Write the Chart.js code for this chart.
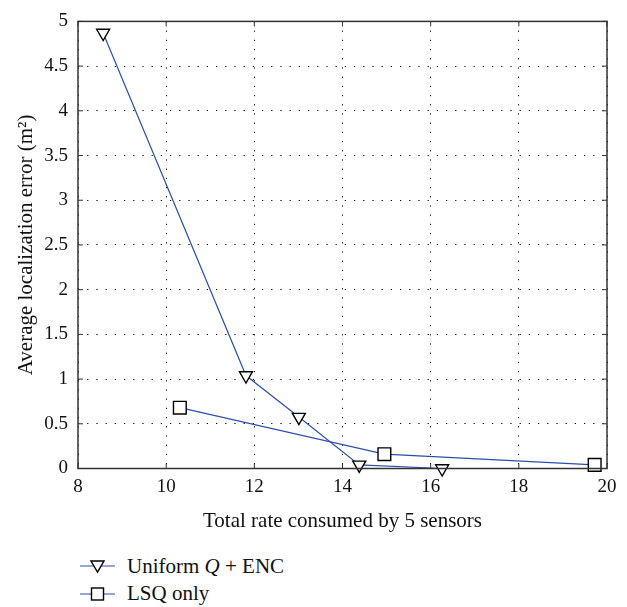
<!DOCTYPE html>
<html>
<head>
<meta charset="utf-8">
<script src="https://cdn.jsdelivr.net/npm/chart.js@4.4.1/dist/chart.umd.min.js"></script>
<style>
  body { margin: 0; background: #fff; }
  #wrap { position: relative; width: 627px; height: 607px; }
  #legend { position: absolute; left: 80px; top: 553px; font-family: "Liberation Serif", serif; font-size: 21px; color: #111; }
  .row { display: flex; align-items: center; height: 27px; }
  .row svg { margin-right: 12px; }
</style>
</head>
<body>
<div id="wrap">
  <canvas id="chart" width="627" height="545"></canvas>
  <div id="legend">
    <div class="row">
      <svg width="35" height="20"><line x1="0" y1="9" x2="35" y2="9" stroke="#2d4fa8" stroke-width="1.2"/><polygon points="11,4 24,4 17.5,15" fill="#fff" stroke="#000" stroke-width="1.4"/></svg>
      <span>Uniform <i>Q</i> + ENC</span>
    </div>
    <div class="row">
      <svg width="35" height="20"><line x1="0" y1="10" x2="35" y2="10" stroke="#2d4fa8" stroke-width="1.2"/><rect x="11.5" y="4" width="12" height="12" fill="#fff" stroke="#000" stroke-width="1.4"/></svg>
      <span>LSQ only</span>
    </div>
  </div>
</div>
<script>
const uniformX = [8.57, 11.81, 13.01, 14.38, 16.26];
const uniformY = [4.87, 1.04, 0.575, 0.04, 0.0];
const lsqX = [10.31, 14.95, 19.72];
const lsqY = [0.68, 0.16, 0.04];
const xTicks = [8, 10, 12, 14, 16, 18, 20];
const yTicks = [0, 0.5, 1, 1.5, 2, 2.5, 3, 3.5, 4, 4.5, 5];

const lineColor = '#2d4fa8';
const serif = '"Liberation Serif", serif';

function toPoints(xs, ys) {
    return xs.map((x, i) => ({ x: x, y: ys[i] }));
}

// box round the plot with small inward ticks
const boxPlugin = {
    id: 'box',
    afterDatasetsDraw(chart) {
        const { ctx, chartArea: a, scales } = chart;
        ctx.save();
        ctx.strokeStyle = '#333';
        ctx.lineWidth = 1.5;
        ctx.strokeRect(a.left, a.top, a.right - a.left, a.bottom - a.top);
        ctx.lineWidth = 1;
        ctx.beginPath();
        xTicks.forEach(t => {
            const px = scales.x.getPixelForValue(t);
            ctx.moveTo(px, a.bottom); ctx.lineTo(px, a.bottom - 5);
            ctx.moveTo(px, a.top); ctx.lineTo(px, a.top + 5);
        });
        yTicks.forEach(t => {
            const py = scales.y.getPixelForValue(t);
            ctx.moveTo(a.left, py); ctx.lineTo(a.left + 5, py);
            ctx.moveTo(a.right, py); ctx.lineTo(a.right - 5, py);
        });
        ctx.stroke();
        ctx.restore();
    }
};

const ctx = document.getElementById('chart').getContext('2d');
const chart = new Chart(ctx, {
    type: 'line',
    data: {
        datasets: [{
            label: 'Uniform Q + ENC',
            data: toPoints(uniformX, uniformY),
            borderColor: lineColor,
            borderWidth: 1.2,
            pointStyle: 'triangle',
            rotation: 180,
            pointRadius: 7.5,
            pointBackgroundColor: '#fff',
            pointBorderColor: '#000',
            pointBorderWidth: 1.4,
            tension: 0,
            clip: false
        }, {
            label: 'LSQ only',
            data: toPoints(lsqX, lsqY),
            borderColor: lineColor,
            borderWidth: 1.2,
            pointStyle: 'rect',
            pointRadius: 9,
            pointBackgroundColor: '#fff',
            pointBorderColor: '#000',
            pointBorderWidth: 1.4,
            tension: 0,
            clip: false
        }]
    },
    options: {
        responsive: false,
        animation: false,
        layout: { padding: { top: 13, right: 20, left: 0, bottom: 0 } },
        plugins: { legend: { display: false }, tooltip: { enabled: false } },
        scales: {
            x: {
                type: 'linear',
                min: 8, max: 20,
                afterFit: s => { s.height = 76.5; },
                afterBuildTicks: s => { s.ticks = xTicks.map(v => ({ value: v })); },
                ticks: { color: '#111', font: { family: serif, size: 19 }, padding: 7, callback: v => String(v) },
                grid: { color: '#000', lineWidth: 1, drawTicks: false },
                border: { display: false, dash: [1.2, 8] },
                title: { display: true, text: 'Total rate consumed by 5 sensors', color: '#111', font: { family: serif, size: 21 }, padding: { top: 0, bottom: 11 } }
            },
            y: {
                min: 0, max: 5,
                afterFit: s => { s.width = 78; },
                afterBuildTicks: s => { s.ticks = yTicks.map(v => ({ value: v })); },
                ticks: { color: '#111', font: { family: serif, size: 19 }, padding: 10, callback: v => String(v) },
                grid: { color: '#000', lineWidth: 1, drawTicks: false },
                border: { display: false, dash: [1.2, 8] },
                title: { display: true, text: 'Average localization error (m²)', color: '#111', font: { family: serif, size: 21 }, padding: { top: 14, bottom: 0 } }
            }
        }
    },
    plugins: [boxPlugin]
});
</script>
</body>
</html>
